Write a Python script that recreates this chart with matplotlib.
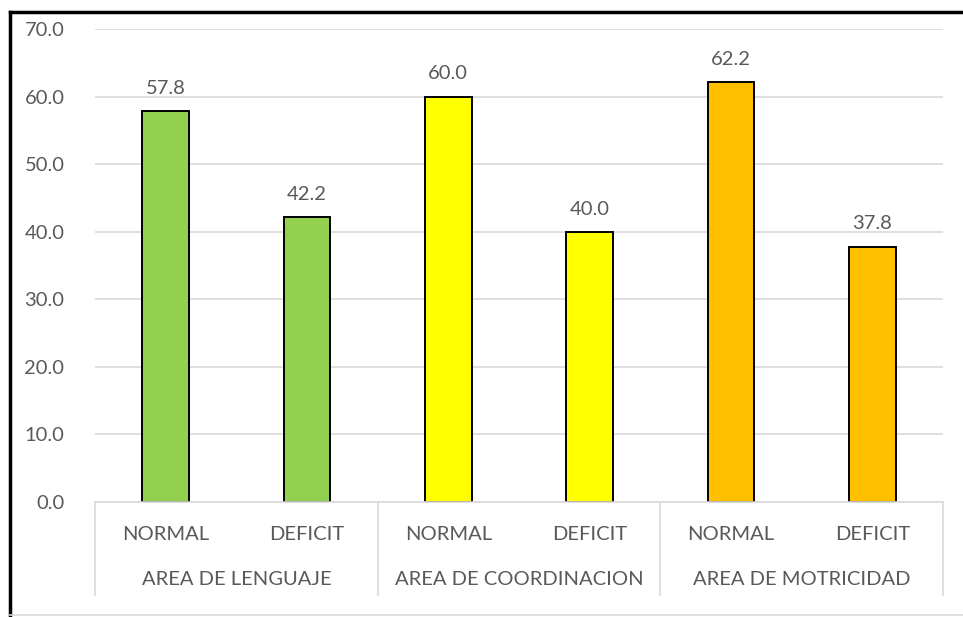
import matplotlib.pyplot as plt
from matplotlib.lines import Line2D
import numpy as np

# values
groups = ['AREA DE LENGUAJE', 'AREA DE COORDINACION', 'AREA DE MOTRICIDAD']
levels = ['NORMAL', 'DEFICIT']
values = [57.8, 42.2, 60.0, 40.0, 62.2, 37.8]
colors = ['#92D050', '#92D050', '#FFFF00', '#FFFF00', '#FFC000', '#FFC000']
yticks = [0, 10, 20, 30, 40, 50, 60, 70]

plt.rcParams['font.family'] = ['Lato', 'DejaVu Sans']
txt = '#595959'
fs = 14.5
W, H = 963, 617

fig = plt.figure(figsize=(W / 100, H / 100), dpi=100)
ax = fig.add_axes([95 / W, 1 - 502 / H, (943 - 95) / W, (502 - 29) / H])

x = np.arange(len(values))
ax.bar(x, values, width=0.33, color=colors, edgecolor='black', linewidth=1.4, zorder=3)
for xi, v in zip(x, values):
    ax.text(xi, v + 2.1, f'{v:.1f}', ha='center', va='bottom', fontsize=fs, color=txt)

ax.set_xlim(-0.5, len(values) - 0.5)
ax.set_ylim(0, 70)
ax.set_yticks(yticks)
ax.set_yticklabels([f'{t:.1f}' for t in yticks], fontsize=fs, color=txt)
ax.tick_params(axis='y', length=0, pad=22)
ax.set_xticks([])
ax.yaxis.grid(True, color='#D9D9D9', linewidth=1.2, zorder=0)
for s in ax.spines.values():
    s.set_visible(False)

# multi-level category axis
tr = ax.get_xaxis_transform()
ax.plot([-0.5, len(values) - 0.5], [0, 0], color='#D9D9D9', lw=1.2, transform=tr, clip_on=False, zorder=4)
for b in [-0.5, 1.5, 3.5, 5.5]:
    ax.plot([b, b], [0, -0.197], color='#D9D9D9', lw=1.2, transform=tr, clip_on=False)
for xi in x:
    ax.text(xi, -0.068, levels[xi % 2], ha='center', va='center', fontsize=fs, color=txt, transform=tr)
for i, g in enumerate(groups):
    ax.text(2 * i + 0.5, -0.163, g, ha='center', va='center', fontsize=fs, color=txt, transform=tr)

# outer frame as in the reference screenshot
fig.add_artist(Line2D([10 / W, 1], [1 - 12 / H, 1 - 12 / H], color='black', lw=2.5))
fig.add_artist(Line2D([10 / W, 10 / W], [0, 1 - 12 / H], color='black', lw=2.5))
fig.add_artist(Line2D([10 / W, 1], [2 / H, 2 / H], color='#D9D9D9', lw=1.2))

fig.savefig('out.png', dpi=100)
